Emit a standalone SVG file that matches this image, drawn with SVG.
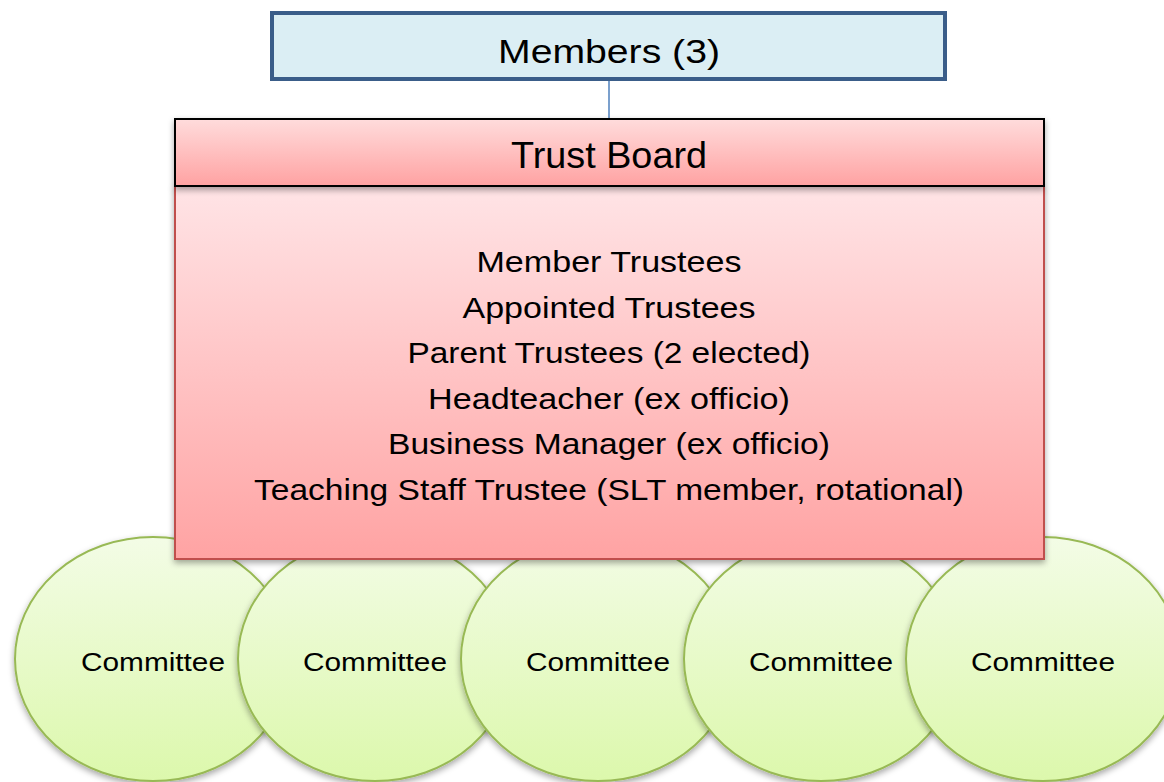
<svg xmlns="http://www.w3.org/2000/svg" width="1164" height="782" viewBox="0 0 1164 782">
<defs>
<linearGradient id="gGreen" x1="0" y1="0" x2="0" y2="1"><stop offset="0" stop-color="#F3FCE6"/><stop offset="1" stop-color="#DCF8AC"/></linearGradient>
<linearGradient id="gHead" x1="0" y1="0" x2="0" y2="1"><stop offset="0" stop-color="#FFDCDC"/><stop offset="1" stop-color="#FFA2A2"/></linearGradient>
<linearGradient id="gBody" x1="0" y1="0" x2="0" y2="1"><stop offset="0" stop-color="#FFE4E6"/><stop offset="1" stop-color="#FFA3A3"/></linearGradient>
<filter id="sh" x="-10%" y="-10%" width="120%" height="130%"><feDropShadow dx="0" dy="3" stdDeviation="3" flood-color="#000" flood-opacity="0.35"/></filter>
</defs>
<style>
.c{fill:url(#gGreen);stroke:#98B954;stroke-width:2;filter:url(#sh)}
.t{font-family:"Liberation Sans",Arial,sans-serif;fill:#000;text-anchor:middle}
.ct{font-size:25px}
.l{font-size:29px}
</style>
<rect width="1164" height="782" fill="#fff"/>
<g id="committees">
<g id="committee1"><ellipse class="c" cx="153" cy="659" rx="138" ry="122"/><text class="t ct" x="153" y="671" textLength="144" lengthAdjust="spacingAndGlyphs">Committee</text></g>
<g id="committee2"><ellipse class="c" cx="375" cy="659" rx="137" ry="122"/><text class="t ct" x="375" y="671" textLength="144" lengthAdjust="spacingAndGlyphs">Committee</text></g>
<g id="committee3"><ellipse class="c" cx="598" cy="659" rx="137" ry="122"/><text class="t ct" x="598" y="671" textLength="144" lengthAdjust="spacingAndGlyphs">Committee</text></g>
<g id="committee4"><ellipse class="c" cx="821" cy="659" rx="137" ry="122"/><text class="t ct" x="821" y="671" textLength="144" lengthAdjust="spacingAndGlyphs">Committee</text></g>
<g id="committee5"><ellipse class="c" cx="1043" cy="659" rx="137" ry="122"/><text class="t ct" x="1043" y="671" textLength="144" lengthAdjust="spacingAndGlyphs">Committee</text></g>
</g>
<g id="connectors"><line x1="609" y1="79" x2="609" y2="118" stroke="#4F81BD" stroke-width="1.5"/></g>
<g id="members">
<rect x="272" y="13" width="673" height="66" fill="#DBEEF4" stroke="#3A5D89" stroke-width="4"/>
<text class="t" x="609" y="63" font-size="34" textLength="222" lengthAdjust="spacingAndGlyphs">Members (3)</text>
</g>
<g id="trust-board">
<rect x="175" y="186" width="869" height="373" fill="url(#gBody)" stroke="#C0504D" stroke-width="2" filter="url(#sh)"/>
<rect x="175" y="119" width="869" height="67" fill="url(#gHead)" stroke="#000" stroke-width="2" filter="url(#sh)"/>
<text class="t" x="609" y="168" font-size="36" textLength="196" lengthAdjust="spacingAndGlyphs">Trust Board</text>
<text class="t l" x="609" y="272" textLength="265" lengthAdjust="spacingAndGlyphs">Member Trustees</text>
<text class="t l" x="609" y="318" textLength="293" lengthAdjust="spacingAndGlyphs">Appointed Trustees</text>
<text class="t l" x="609" y="363" textLength="403" lengthAdjust="spacingAndGlyphs">Parent Trustees (2 elected)</text>
<text class="t l" x="609" y="409" textLength="362" lengthAdjust="spacingAndGlyphs">Headteacher (ex officio)</text>
<text class="t l" x="609" y="454" textLength="442" lengthAdjust="spacingAndGlyphs">Business Manager (ex officio)</text>
<text class="t l" x="609" y="500" textLength="710" lengthAdjust="spacingAndGlyphs">Teaching Staff Trustee (SLT member, rotational)</text>
</g>
</svg>
